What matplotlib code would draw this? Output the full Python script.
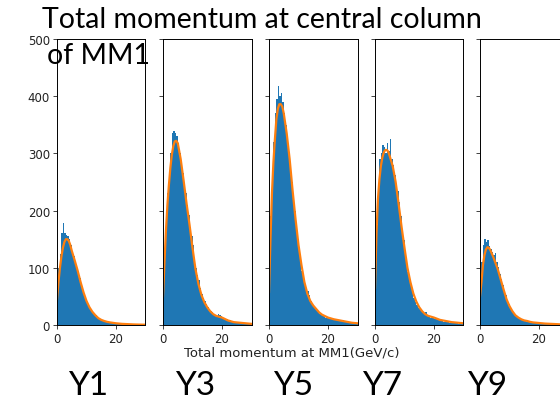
import numpy as np
import matplotlib
matplotlib.use("Agg")
import matplotlib.pyplot as plt

panel_labels = ["Y1", "Y3", "Y5", "Y7", "Y9"]
title_line1 = "Total momentum at central column"
title_line2 = "of MM1"
xlabel_text = "Total momentum at MM1(GeV/c)"

bin_edges = np.arange(0, 30.01, 0.5)

hist_Y1 = [60, 100, 125, 160, 178, 160, 158, 155, 150, 140, 128, 120, 112, 100, 92, 82, 72, 62, 55, 46,
           40, 35, 30, 27, 22, 20, 17, 14, 12, 11, 9, 8, 7, 7, 5, 5, 4, 4, 6, 3,
           3, 3, 2, 4, 2, 2, 1, 2, 1, 1, 1, 2, 1, 0, 1, 0, 1, 0, 0, 1]
hist_Y3 = [70, 130, 190, 230, 270, 300, 335, 340, 335, 330, 318, 300, 285, 265, 248, 230, 210, 192, 172, 155,
           140, 118, 100, 88, 78, 65, 55, 48, 42, 36, 32, 28, 25, 22, 20, 18, 16, 20, 18, 15,
           14, 12, 11, 10, 8, 8, 7, 6, 6, 5, 5, 4, 4, 4, 3, 3, 3, 2, 2, 2]
hist_Y5 = [90, 190, 265, 320, 370, 395, 418, 400, 405, 390, 370, 350, 325, 300, 275, 250, 225, 200, 170, 150,
           130, 112, 95, 82, 72, 62, 60, 52, 42, 38, 32, 30, 26, 22, 20, 18, 15, 14, 13, 14,
           12, 12, 10, 11, 10, 9, 10, 8, 9, 7, 8, 6, 5, 5, 4, 4, 3, 3, 3, 2]
hist_Y7 = [90, 175, 240, 290, 300, 315, 312, 300, 318, 305, 325, 290, 280, 262, 245, 235, 215, 190, 168, 148,
           128, 110, 92, 80, 70, 58, 48, 40, 35, 30, 28, 25, 22, 20, 22, 16, 14, 13, 12, 12,
           10, 10, 9, 8, 8, 7, 6, 6, 5, 5, 4, 4, 4, 3, 3, 3, 2, 2, 2, 2]
hist_Y9 = [60, 110, 140, 150, 145, 148, 138, 132, 128, 122, 126, 110, 102, 90, 80, 70, 60, 52, 42, 36,
           30, 26, 22, 18, 16, 14, 12, 10, 9, 8, 7, 6, 6, 5, 5, 4, 4, 3, 4, 3,
           3, 2, 3, 2, 2, 2, 1, 2, 1, 1, 1, 1, 1, 1, 0, 1, 1, 0, 1, 0]

fit_x = [0, 0.5, 1, 1.5, 2, 2.5, 3, 3.5, 4, 4.5, 5, 6, 7, 8, 9, 10, 11, 12, 13, 14, 15, 16, 17, 18,
         20, 22, 24, 26, 28, 30]
fit_Y1 = [45, 75, 100, 120, 135, 145, 150, 150, 147, 140, 130, 113, 95, 75, 57, 42, 31, 23, 17, 12, 9, 7, 5.5, 4.5,
          3, 2, 1.5, 1, 0.7, 0.5]
fit_Y3 = [50, 110, 165, 210, 245, 275, 298, 313, 321, 322, 318, 290, 252, 212, 175, 135, 98, 72, 53, 40, 31, 24, 19, 16,
          13, 8, 5, 4, 3, 2]
fit_Y5 = [58, 150, 230, 285, 325, 360, 378, 386, 386, 382, 370, 335, 290, 235, 185, 140, 105, 75, 55, 42, 34, 28, 22, 18,
          13, 10, 8, 6, 4, 3]
fit_Y7 = [65, 160, 220, 255, 278, 293, 302, 306, 306, 303, 295, 278, 250, 212, 172, 135, 100, 75, 55, 41, 31, 24, 19, 16,
          13, 9, 7, 5, 4, 3]
fit_Y9 = [50, 75, 105, 122, 132, 136, 135, 131, 125, 119, 112, 98, 80, 62, 45, 33, 24, 17, 13, 10, 8, 7, 5.5, 4.5,
          3.5, 2.5, 2, 1.5, 1, 1]

hists = [hist_Y1, hist_Y3, hist_Y5, hist_Y7, hist_Y9]
fits = [fit_Y1, fit_Y3, fit_Y5, fit_Y7, fit_Y9]

W, H = 560, 402
fig = plt.figure(figsize=(W / 100, H / 100), dpi=100)

lefts_px = [57, 163, 269, 375, 480]
ax_w_px = 88.5
bottom_px = 326
top_px = 40
label_left_px = [68, 175, 273, 362, 467]

centers = (bin_edges[:-1] + bin_edges[1:]) / 2
for i, (h, f) in enumerate(zip(hists, fits)):
    ax = fig.add_axes([lefts_px[i] / W, (H - bottom_px) / H, ax_w_px / W, (bottom_px - top_px) / H])
    ax.hist(centers, bins=bin_edges, weights=h, color="#1f77b4")
    ax.plot(fit_x, f, color="#ff7f0e", lw=1.6)
    ax.set_xlim(0, 30)
    ax.set_ylim(0, 500)
    ax.set_xticks([0, 20])
    ax.set_yticks([0, 100, 200, 300, 400, 500])
    ax.tick_params(labelsize=8.5, length=3, width=0.6, pad=2, colors="#222222")
    for s in ax.spines.values():
        s.set_linewidth(0.7)
    if i > 0:
        ax.set_yticklabels([])
    fig.text(label_left_px[i] / W, (H - 395) / H, panel_labels[i], fontsize=24,
             family="Lato", ha="left", va="baseline")

fig.text(292 / W, (H - 353) / H, xlabel_text, fontsize=9.5, ha="center", va="center", color="#222222")
fig.text(42 / W, (H - 28) / H, title_line1, fontsize=20.5, family="Lato",
         ha="left", va="baseline")
fig.text(47 / W, (H - 64) / H, title_line2, fontsize=20.5, family="Lato",
         ha="left", va="baseline")

fig.savefig("out.png", dpi=100)
